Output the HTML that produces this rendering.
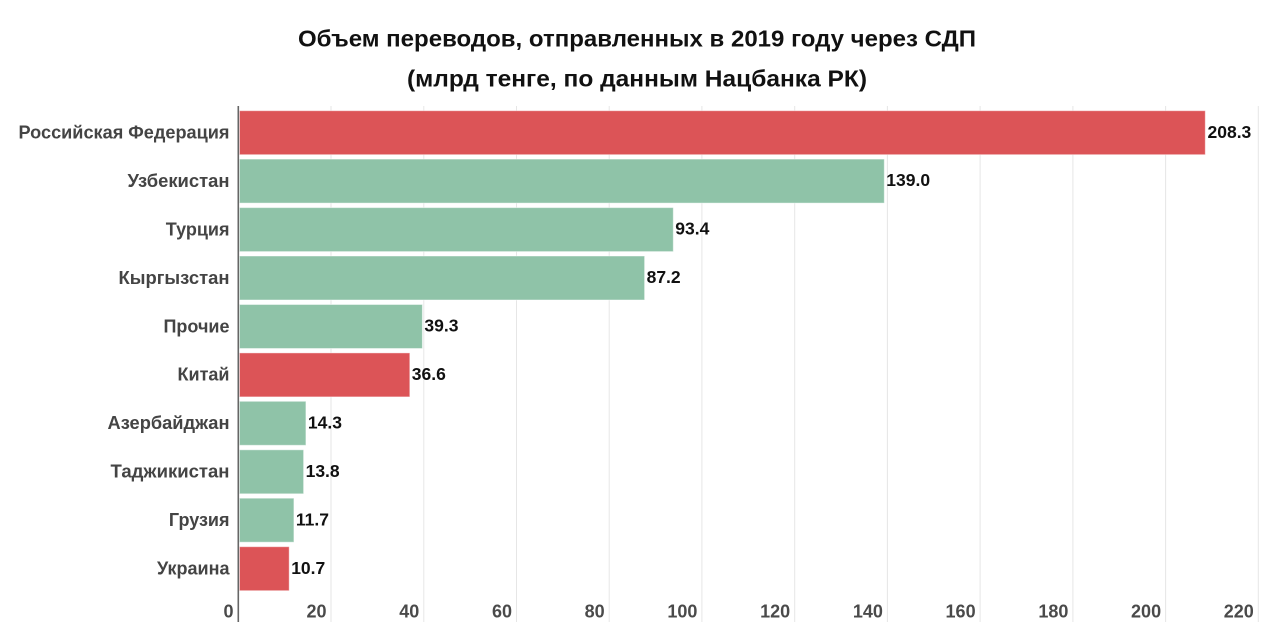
<!DOCTYPE html>
<html><head><meta charset="utf-8"><style>
html,body{margin:0;padding:0;background:#fff;}
svg{display:block;}
text{font-family:"Liberation Sans","Noto Sans CJK SC",sans-serif;}
</style></head><body>
<svg width="1277" height="634" viewBox="0 0 1277 634" xmlns="http://www.w3.org/2000/svg">
<rect width="1277" height="634" fill="#fff"/>
<text x="637" y="46.5" text-anchor="middle" font-size="23.5" font-weight="bold" fill="#111" textLength="678" lengthAdjust="spacingAndGlyphs">Объем переводов, отправленных в 2019 году через СДП</text>
<text x="637" y="86.5" text-anchor="middle" font-size="23.5" font-weight="bold" fill="#111" textLength="460" lengthAdjust="spacingAndGlyphs">(млрд тенге, по данным Нацбанка РК)</text>
<g stroke="#e6e6e6" stroke-width="1">
<line x1="331" y1="106" x2="331" y2="622"/>
<line x1="423.8" y1="106" x2="423.8" y2="622"/>
<line x1="516.5" y1="106" x2="516.5" y2="622"/>
<line x1="609.2" y1="106" x2="609.2" y2="622"/>
<line x1="701.9" y1="106" x2="701.9" y2="622"/>
<line x1="794.7" y1="106" x2="794.7" y2="622"/>
<line x1="887.4" y1="106" x2="887.4" y2="622"/>
<line x1="980.1" y1="106" x2="980.1" y2="622"/>
<line x1="1072.9" y1="106" x2="1072.9" y2="622"/>
<line x1="1165.6" y1="106" x2="1165.6" y2="622"/>
<line x1="1258.3" y1="106" x2="1258.3" y2="622"/>
</g>
<g stroke="rgba(255,255,255,0.45)" stroke-width="1">
<rect x="239.5" y="110.7" width="965.8" height="44" fill="#dc5457"/>
<rect x="239.5" y="159.1" width="644.8" height="44" fill="#8fc3a8"/>
<rect x="239.5" y="207.6" width="433.8" height="44" fill="#8fc3a8"/>
<rect x="239.5" y="256.0" width="405.1" height="44" fill="#8fc3a8"/>
<rect x="239.5" y="304.5" width="182.9" height="44" fill="#8fc3a8"/>
<rect x="239.5" y="352.9" width="170.3" height="44" fill="#dc5457"/>
<rect x="239.5" y="401.3" width="66.4" height="44" fill="#8fc3a8"/>
<rect x="239.5" y="449.8" width="64.1" height="44" fill="#8fc3a8"/>
<rect x="239.5" y="498.2" width="54.4" height="44" fill="#8fc3a8"/>
<rect x="239.5" y="546.7" width="49.7" height="44" fill="#dc5457"/>
</g>
<line x1="238.3" y1="106" x2="238.3" y2="622" stroke="#666" stroke-width="1.6"/>
<g font-size="18" font-weight="bold" fill="#444" text-anchor="end">
<text x="229.5" y="138.5" textLength="211" lengthAdjust="spacingAndGlyphs">Российская Федерация</text>
<text x="229.5" y="187.0" textLength="102" lengthAdjust="spacingAndGlyphs">Узбекистан</text>
<text x="229.5" y="235.4">Турция</text>
<text x="229.5" y="283.8" textLength="111" lengthAdjust="spacingAndGlyphs">Кыргызстан</text>
<text x="229.5" y="332.3">Прочие</text>
<text x="229.5" y="380.7">Китай</text>
<text x="229.5" y="429.1" textLength="122" lengthAdjust="spacingAndGlyphs">Азербайджан</text>
<text x="229.5" y="477.6" textLength="119" lengthAdjust="spacingAndGlyphs">Таджикистан</text>
<text x="229.5" y="526.0">Грузия</text>
<text x="229.5" y="574.5">Украина</text>
</g>
<g font-size="17.5" font-weight="bold" fill="#111">
<text x="1207.5" y="137.8">208.3</text>
<text x="886.3" y="186.2">139.0</text>
<text x="675.3" y="234.7">93.4</text>
<text x="646.6" y="283.1">87.2</text>
<text x="424.4" y="331.6">39.3</text>
<text x="411.8" y="380.0">36.6</text>
<text x="307.9" y="428.4">14.3</text>
<text x="305.6" y="476.9">13.8</text>
<text x="295.9" y="525.3">11.7</text>
<text x="291.2" y="573.8">10.7</text>
</g>
<g font-size="18" fill="#4a4a4a" text-anchor="end" font-weight="bold">
<text x="233.5" y="617.3">0</text>
<text x="326.5" y="617.3">20</text>
<text x="419.3" y="617.3">40</text>
<text x="512" y="617.3">60</text>
<text x="604.7" y="617.3">80</text>
<text x="697.4" y="617.3">100</text>
<text x="790.2" y="617.3">120</text>
<text x="882.9" y="617.3">140</text>
<text x="975.6" y="617.3">160</text>
<text x="1068.4" y="617.3">180</text>
<text x="1161.1" y="617.3">200</text>
<text x="1253.8" y="617.3">220</text>
</g>
</svg>
</body></html>
